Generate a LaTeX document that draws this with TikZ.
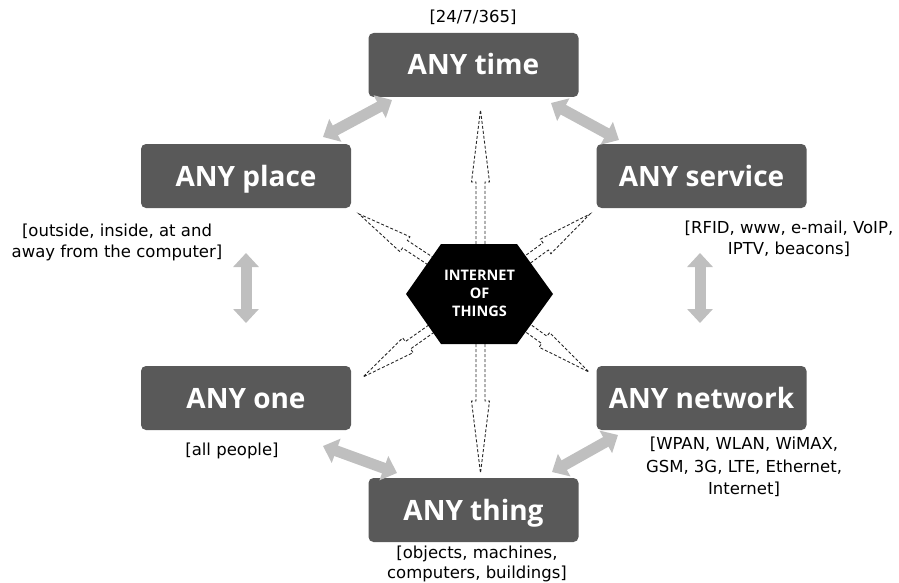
\documentclass[tikz,border=0pt]{standalone}
\usepackage{fontspec}
\setmainfont{DejaVu Sans}
\newfontfamily\boxfont{Open Sans}
\usetikzlibrary{arrows.meta,calc}
\definecolor{boxgray}{HTML}{595959}
\definecolor{arrgray}{HTML}{BFBFBF}
\newcommand\iotarrow[3]{%
  \draw[dasharr] let \p1=($(#2)-(#1)$), \n1={atan2(\y1,\x1)}, \n2={veclen(\x1,\y1)} in
    [shift={(#1)}, rotate=\n1] (0,-4.5) -- ({\n2-#3},-4.5) -- ({\n2-#3},-9) -- (\n2,0)
    -- ({\n2-#3},9) -- ({\n2-#3},4.5) -- (0,4.5);}
\begin{document}
\begin{tikzpicture}[x=1pt,y=-1pt,
  anybox/.style={fill=boxgray, rounded corners=5pt, minimum width=210pt, minimum height=64pt,
    text=white, font=\boxfont\bfseries\fontsize{28}{32}\selectfont, inner sep=0pt,
    text height=20pt, text depth=0pt},
  note/.style={font=\fontsize{16.5}{21}\selectfont, align=center, text=black, inner sep=0pt},
  grayarr/.style={draw=arrgray, line width=11pt,
    {Triangle[length=14pt,width=25pt]}-{Triangle[length=14pt,width=25pt]}},
  dasharr/.style={draw=black!85, dash pattern=on 3pt off 2pt, line width=0.9pt}]
\useasboundingbox (0,0) rectangle (899,583);

% boxes
\node[anybox] (time) at (473.5,65) {ANY time};
\node[anybox] (place) at (246,176) {ANY place};
\node[anybox] (service) at (701.5,176) {ANY service};
\node[anybox] (one) at (246,398) {ANY one};
\node[anybox] (network) at (701.5,398) {ANY network};
\node[anybox] (thing) at (473.5,510) {ANY thing};

% notes
\node[note] (tnote) at (473,17) {[24/7/365]};
\node[note] (pnote) at (117,242) {[outside, inside, at and\\away from the computer]};
\node[note] (snote) at (789,239) {[RFID, www, e-mail, VoIP,\\IPTV, beacons]};
\node[note] (onote) at (232,451) {[all people]};
\node[note, font=\fontsize{16.5}{22.5}\selectfont] (nnote) at (744,467) {[WPAN, WLAN, WiMAX,\\GSM, 3G, LTE, Ethernet,\\Internet]};
\node[note, font=\fontsize{16.5}{19.5}\selectfont] (thnote) at (477,564) {[objects, machines,\\computers, buildings]};

% gray double arrows
\coordinate (tp1) at (323,137); \coordinate (tp2) at (392,100);
\coordinate (ts1) at (551,103); \coordinate (ts2) at (619,140);
\coordinate (po1) at (246,253); \coordinate (po2) at (246,323);
\coordinate (sn1) at (700,253); \coordinate (sn2) at (700,323);
\coordinate (ot1) at (323,446); \coordinate (ot2) at (397,473);
\coordinate (nt1) at (618,435); \coordinate (nt2) at (552,472);
\draw[grayarr] (tp1) -- (tp2);
\draw[grayarr] (ts1) -- (ts2);
\draw[grayarr] (po1) -- (po2);
\draw[grayarr] (sn1) -- (sn2);
\draw[grayarr] (ot1) -- (ot2);
\draw[grayarr] (nt1) -- (nt2);

% dashed arrows from the centre
\coordinate (c) at (480.5,294);
\coordinate (tU) at (480.5,110);
\coordinate (tD) at (480.5,473);
\coordinate (tUL) at (359,214);
\coordinate (tUR) at (590,214);
\coordinate (tLL) at (363,377);
\coordinate (tLR) at (589,372);
\iotarrow{c}{tU}{72}
\iotarrow{c}{tD}{72}
\iotarrow{c}{tUL}{55}
\iotarrow{c}{tUR}{55}
\iotarrow{c}{tLL}{55}
\iotarrow{c}{tLR}{55}

% hexagon
\fill[black] (406,294) -- (441,244) -- (517,244) -- (553,294) -- (517,344) -- (441,344) -- cycle;
\node[text=white, align=center, inner sep=0pt, font=\boxfont\bfseries\fontsize{14.5}{18}\selectfont] (iot) at (479.5,293) {INTERNET\\OF\\THINGS};
\end{tikzpicture}
\end{document}
